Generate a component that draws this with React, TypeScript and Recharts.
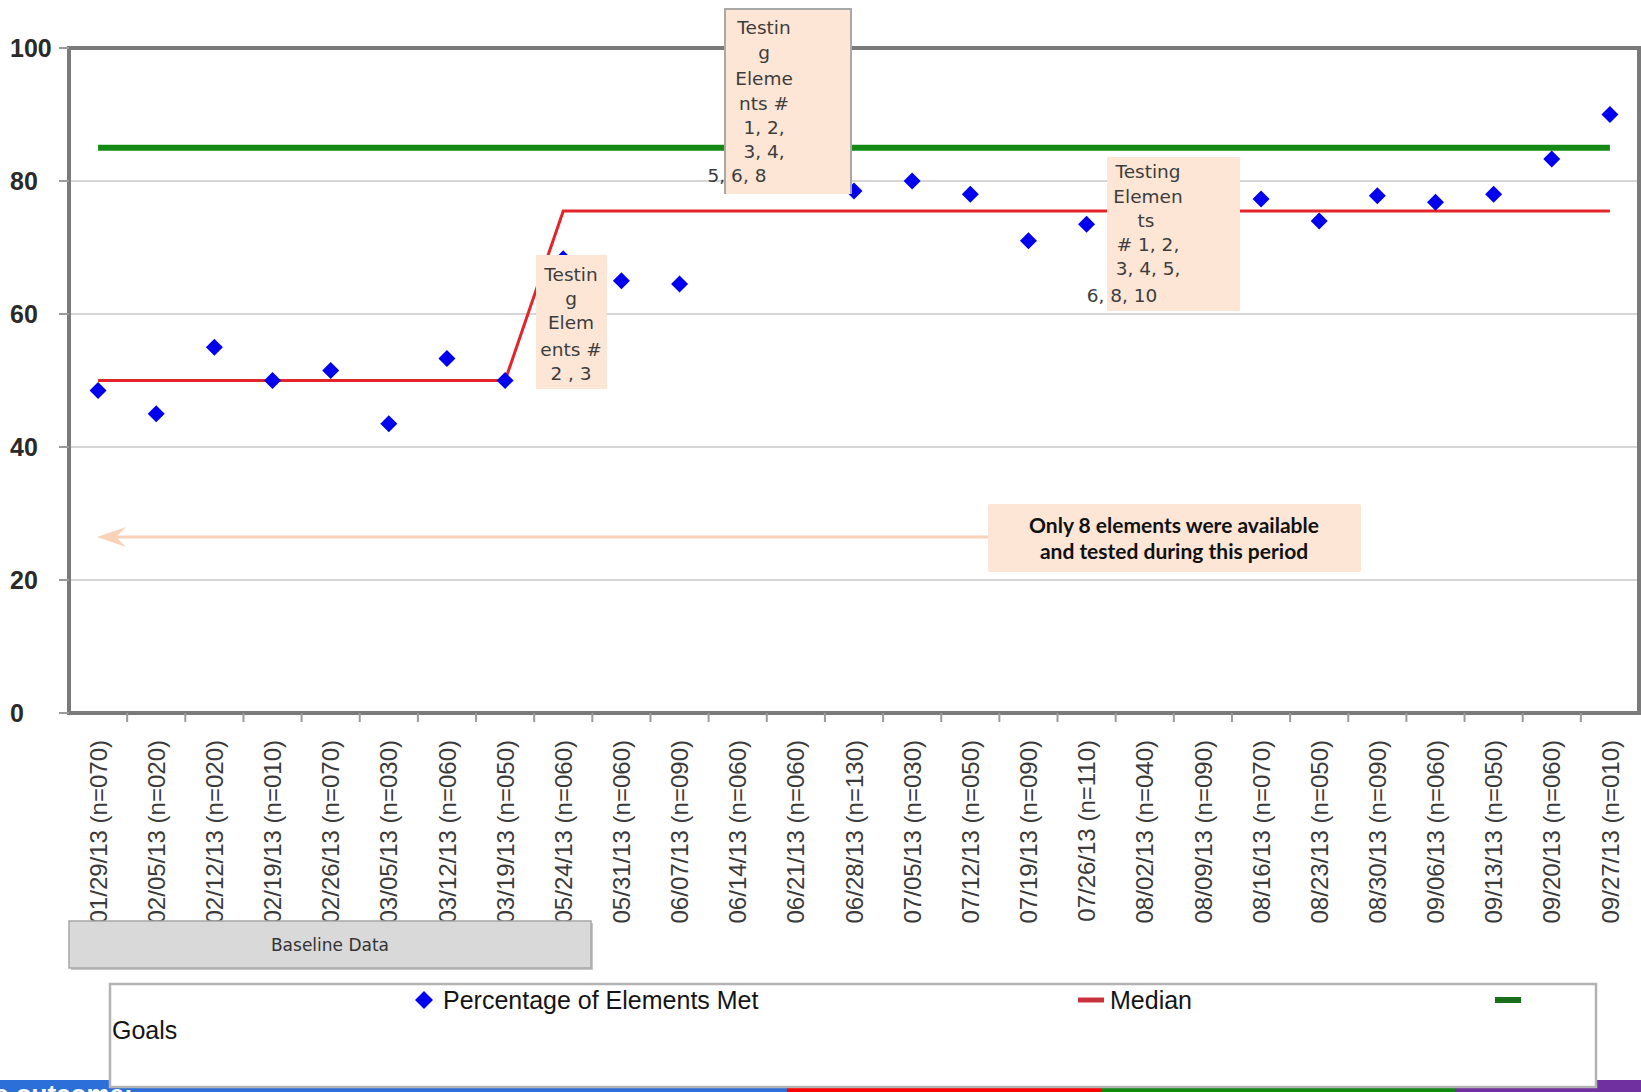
import React from 'react';
import { ComposedChart, Line, XAxis, YAxis, CartesianGrid, ReferenceArea } from 'recharts';

// Weekly audit dates and sample sizes
const dates = [
  '01/29/13', '02/05/13', '02/12/13', '02/19/13', '02/26/13', '03/05/13', '03/12/13', '03/19/13',
  '05/24/13', '05/31/13', '06/07/13', '06/14/13', '06/21/13', '06/28/13', '07/05/13', '07/12/13',
  '07/19/13', '07/26/13', '08/02/13', '08/09/13', '08/16/13', '08/23/13', '08/30/13', '09/06/13',
  '09/13/13', '09/20/13', '09/27/13',
];
const sampleSizes = [
  '070', '020', '020', '010', '070', '030', '060', '050',
  '060', '060', '090', '060', '060', '130', '030', '050',
  '090', '110', '040', '090', '070', '050', '090', '060',
  '050', '060', '010',
];

// Percentage of elements met per week
const percentMet = [
  48.5, 45, 55, 50, 51.5, 43.5, 53.3, 50,
  68.3, 65, 64.5, 82, 81, 78.5, 80, 78,
  71, 73.5, 76, 75.5, 77.3, 74, 77.8, 76.8,
  78, 83.3, 90,
];

// Median: baseline phase, then testing phase
const medianValues = [
  50, 50, 50, 50, 50, 50, 50, 50,
  75.5, 75.5, 75.5, 75.5, 75.5, 75.5, 75.5, 75.5,
  75.5, 75.5, 75.5, 75.5, 75.5, 75.5, 75.5, 75.5,
  75.5, 75.5, 75.5,
];

// Goal level
const goalValues = dates.map(() => 85);

const yTicks = [0, 20, 40, 60, 80, 100];

const data = dates.map((d, i) => ({
  label: `${d} (n=${sampleSizes[i]})`,
  pct: percentMet[i],
  median: medianValues[i],
  goal: goalValues[i],
}));

// Layout
const CHART_W = 1641;
const CHART_H = 940;
const PLOT_LEFT = 69;
const PLOT_RIGHT = 1639;
const PLOT_TOP = 48;
const PLOT_BOTTOM = 713;
const BAND = (PLOT_RIGHT - PLOT_LEFT) / dates.length;

const ARIAL = '"Liberation Sans", Arial, sans-serif';
const TAHOMA = '"DejaVu Sans", Verdana, Tahoma, sans-serif';

const BLUE = '#0000ee';
const RED = '#e3252b';
const GREEN = '#148a14';
const PEACH = '#fde6d5';

const Diamond = ({ cx, cy, r = 8.5, fill = BLUE }: { cx: number; cy: number; r?: number; fill?: string }) => (
  <polygon points={`${cx},${cy - r} ${cx + r},${cy} ${cx},${cy + r} ${cx - r},${cy}`} fill={fill} />
);

const renderDot = (props: any) => {
  const { cx, cy, index } = props;
  if (cx == null || cy == null) return <g key={`d-${index}`} />;
  return <Diamond key={`d-${index}`} cx={cx} cy={cy} />;
};

const XTick = (props: any) => {
  const { x, payload } = props;
  const edge = x - BAND / 2;
  return (
    <g>
      {payload.index > 0 && (
        <line x1={edge} x2={edge} y1={PLOT_BOTTOM} y2={PLOT_BOTTOM + 9} stroke="#9a9a9a" strokeWidth={2} />
      )}
      <g transform={`translate(${x},${PLOT_BOTTOM + 27}) rotate(-90)`}>
        <text textAnchor="end" dy="0.36em" fontSize={24} fill="#3a3a3a" fontFamily={ARIAL}>
          {payload.value}
        </text>
      </g>
    </g>
  );
};

// Value labels sit flush left of the axis column
const YTick = (props: any) => {
  const { y, payload } = props;
  return (
    <g>
      <line x1={PLOT_LEFT - 10} x2={PLOT_LEFT} y1={y} y2={y} stroke="#9a9a9a" strokeWidth={2} />
      <text x={10} y={y} dy="0.36em" textAnchor="start" fontSize={25} fontWeight={700} fill="#2a2a2a" fontFamily={ARIAL}>
        {payload.value}
      </text>
    </g>
  );
};

type NoteLine = { text: string; x: number; y: number };

const NoteText = ({ lines, size = 18.5 }: { lines: NoteLine[]; size?: number }) => (
  <g>
    {lines.map((l, i) => (
      <text key={i} x={l.x} y={l.y} dy="0.36em" textAnchor="middle" fontSize={size} fill="#3d3d3d" fontFamily={TAHOMA}>
        {l.text}
      </text>
    ))}
  </g>
);

const note1: NoteLine[] = [
  { text: 'Testin', x: 571, y: 274 },
  { text: 'g', x: 571, y: 298 },
  { text: 'Elem', x: 571, y: 322 },
  { text: 'ents #', x: 571, y: 349 },
  { text: '2 , 3', x: 571, y: 373 },
];

const note2: NoteLine[] = [
  { text: 'Testin', x: 764, y: 27 },
  { text: 'g', x: 764, y: 52 },
  { text: 'Eleme', x: 764, y: 78 },
  { text: 'nts #', x: 764, y: 103 },
  { text: '1, 2,', x: 764, y: 127 },
  { text: '3, 4,', x: 764, y: 151 },
  { text: '5, 6, 8', x: 737, y: 175 },
];

const note3: NoteLine[] = [
  { text: 'Testing', x: 1148, y: 171 },
  { text: 'Elemen', x: 1148, y: 196 },
  { text: 'ts', x: 1146, y: 220 },
  { text: '# 1, 2,', x: 1148, y: 244 },
  { text: '3, 4, 5,', x: 1148, y: 268 },
  { text: '6, 8, 10', x: 1122, y: 295 },
];

const Overlay = () => (
  <svg width={1641} height={1092} style={{ position: 'absolute', left: 0, top: 0, pointerEvents: 'none' }}>
    {/* arrow toward the start of the series */}
    <line x1={988} y1={537} x2={112} y2={537} stroke="#f9d2b8" strokeWidth={3} />
    <path d="M 97 537 L 126 527 L 116 537 L 126 547 Z" fill="#f9d2b8" />

    {/* note: elements 2, 3 */}
    <rect x={536} y={255} width={71} height={134} fill={PEACH} />
    <NoteText lines={note1} />

    {/* note: elements 1-6, 8 */}
    <rect x={725} y={9} width={126} height={185} fill={PEACH} />
    <path d="M 725 194 L 725 9 L 851 9 L 851 194" fill="none" stroke="#a8a8a8" strokeWidth={2} />
    <NoteText lines={note2} />

    {/* note: elements 1-6, 8, 10 */}
    <rect x={1107} y={157} width={133} height={154} fill={PEACH} />
    <NoteText lines={note3} />

    {/* callout */}
    <rect x={988} y={504} width={373} height={68} rx={2} fill={PEACH} />
    <text x={1174} y={533} textAnchor="middle" fontSize={21} fontWeight={700} fill="#111" fontFamily="Lato, 'Open Sans', sans-serif">
      Only 8 elements were available
    </text>
    <text x={1174} y={559} textAnchor="middle" fontSize={21} fontWeight={700} fill="#111" fontFamily="Lato, 'Open Sans', sans-serif">
      and tested during this period
    </text>

    {/* baseline phase label */}
    <rect x={71} y={923} width={522} height={47} fill="#c8c8c8" />
    <rect x={69} y={921} width={522} height={47} fill="#d9d9d9" stroke="#a6a6a6" strokeWidth={1.5} />
    <text x={330} y={945} dy="0.36em" textAnchor="middle" fontSize={17} fill="#333" fontFamily={TAHOMA}>
      Baseline Data
    </text>

    {/* bottom colour band */}
    <rect x={0} y={1080} width={787} height={12} fill="#2d6fd8" />
    <rect x={787} y={1080} width={315} height={12} fill="#ff0000" />
    <rect x={1102} y={1080} width={353} height={12} fill="#0f8a0f" />
    <rect x={1455} y={1080} width={186} height={12} fill="#7030a0" />
    <text x={-6} y={1103} fontSize={26} fontWeight={700} fill="#ffffff" fontFamily={ARIAL}>e outcome:</text>

    {/* legend */}
    <rect x={110} y={984} width={1486} height={103} fill="#ffffff" stroke="#b3b3b3" strokeWidth={2.5} />
    <Diamond cx={424} cy={1000} r={9} />
    <text x={443} y={1000} dy="0.36em" fontSize={25} fill="#151515" fontFamily={ARIAL}>Percentage of Elements Met</text>
    <line x1={1078} y1={1000} x2={1104} y2={1000} stroke="#c8303a" strokeWidth={5} />
    <text x={1110} y={1000} dy="0.36em" fontSize={25} fill="#151515" fontFamily={ARIAL}>Median</text>
    <line x1={1495} y1={1000} x2={1521} y2={1000} stroke="#1b6e1b" strokeWidth={6} />
    <text x={112} y={1030} dy="0.36em" fontSize={25} fill="#151515" fontFamily={ARIAL}>Goals</text>
  </svg>
);

export default function App() {
  return (
    <div style={{ position: 'absolute', left: 0, top: 0, width: 1641, height: 1092, background: '#fff', overflow: 'hidden' }}>
      <div style={{ position: 'absolute', left: 0, top: 0 }}>
        <ComposedChart
          width={CHART_W}
          height={CHART_H}
          data={data}
          margin={{ top: PLOT_TOP, right: CHART_W - PLOT_RIGHT, bottom: 0, left: 0 }}
        >
          <CartesianGrid vertical={false} stroke="#d6d6d6" strokeWidth={2} />
          <XAxis
            dataKey="label"
            scale="band"
            interval={0}
            height={CHART_H - PLOT_BOTTOM}
            axisLine={false}
            tickLine={false}
            tick={<XTick />}
          />
          <YAxis
            domain={[0, 100]}
            ticks={yTicks}
            width={PLOT_LEFT}
            axisLine={false}
            tickLine={false}
            tick={<YTick />}
          />
          <ReferenceArea y1={0} y2={100} fill="none" stroke="#7a7a7a" strokeWidth={4} ifOverflow="visible" />
          <Line
            type="linear"
            dataKey="goal"
            stroke={GREEN}
            strokeWidth={6}
            dot={false}
            activeDot={false}
            isAnimationActive={false}
          />
          <Line
            type="linear"
            dataKey="median"
            stroke={RED}
            strokeWidth={3}
            dot={false}
            activeDot={false}
            isAnimationActive={false}
          />
          <Line
            type="linear"
            dataKey="pct"
            stroke="none"
            dot={renderDot}
            activeDot={false}
            isAnimationActive={false}
          />
        </ComposedChart>
      </div>
      <Overlay />
    </div>
  );
}
